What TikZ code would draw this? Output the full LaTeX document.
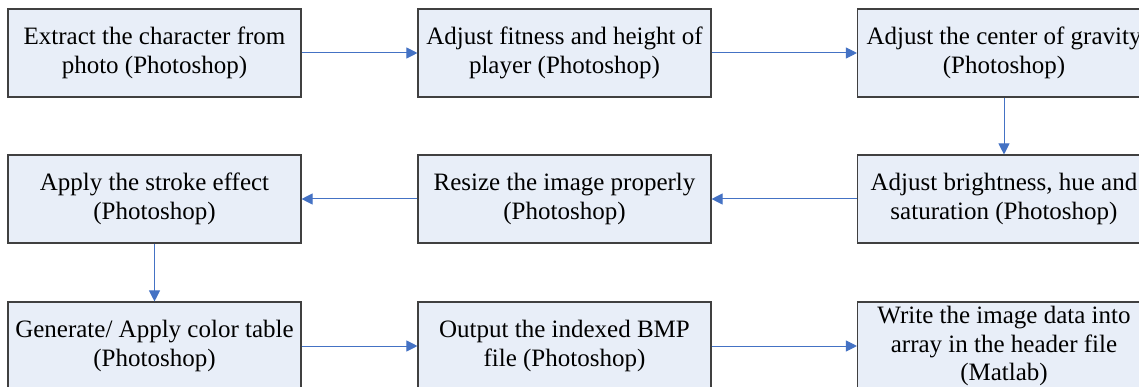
\documentclass[tikz,border=0pt]{standalone}
\usepackage{fontspec}
\setmainfont{Liberation Serif}
\usetikzlibrary{arrows.meta}
\definecolor{boxfill}{HTML}{E8EEF8}
\definecolor{boxline}{HTML}{404040}
\definecolor{arrowblue}{HTML}{4472C4}
\begin{document}
\begin{tikzpicture}[x=1pt,y=1pt,
  stepbox/.style={draw=boxline, line width=1.1pt, fill=boxfill,
    minimum width=293pt, minimum height=88pt, inner sep=0pt,
    align=center, font=\fontsize{25}{28.5}\selectfont},
  flow/.style={draw=arrowblue, line width=1pt,
    -{Triangle[length=11pt,width=11pt]}}]
\useasboundingbox (0,0) rectangle (1139,-387);
\node[stepbox] (a) at (154.5,-53) {Extract the character from\\photo (Photoshop)};
\node[stepbox] (b) at (564.5,-53) {Adjust fitness and height of\\player (Photoshop)};
\node[stepbox] (c) at (1004,-53) {Adjust the center of gravity\\(Photoshop)};
\node[stepbox] (d) at (1004,-199) {Adjust brightness, hue and\\saturation (Photoshop)};
\node[stepbox] (e) at (564.5,-199) {Resize the image properly\\(Photoshop)};
\node[stepbox] (f) at (154.5,-199) {Apply the stroke effect\\(Photoshop)};
\node[stepbox] (g) at (154.5,-346) {Generate/ Apply color table\\(Photoshop)};
\node[stepbox] (h) at (564.5,-346) {Output the indexed BMP\\file (Photoshop)};
\node[stepbox] (i) at (1004,-346) {Write the image data into\\array in the header file\\(Matlab)};
\draw[flow] (a) -- (b);
\draw[flow] (b) -- (c);
\draw[flow] (c) -- (d);
\draw[flow] (d) -- (e);
\draw[flow] (e) -- (f);
\draw[flow] (f) -- (g);
\draw[flow] (g) -- (h);
\draw[flow] (h) -- (i);
\end{tikzpicture}
\end{document}
